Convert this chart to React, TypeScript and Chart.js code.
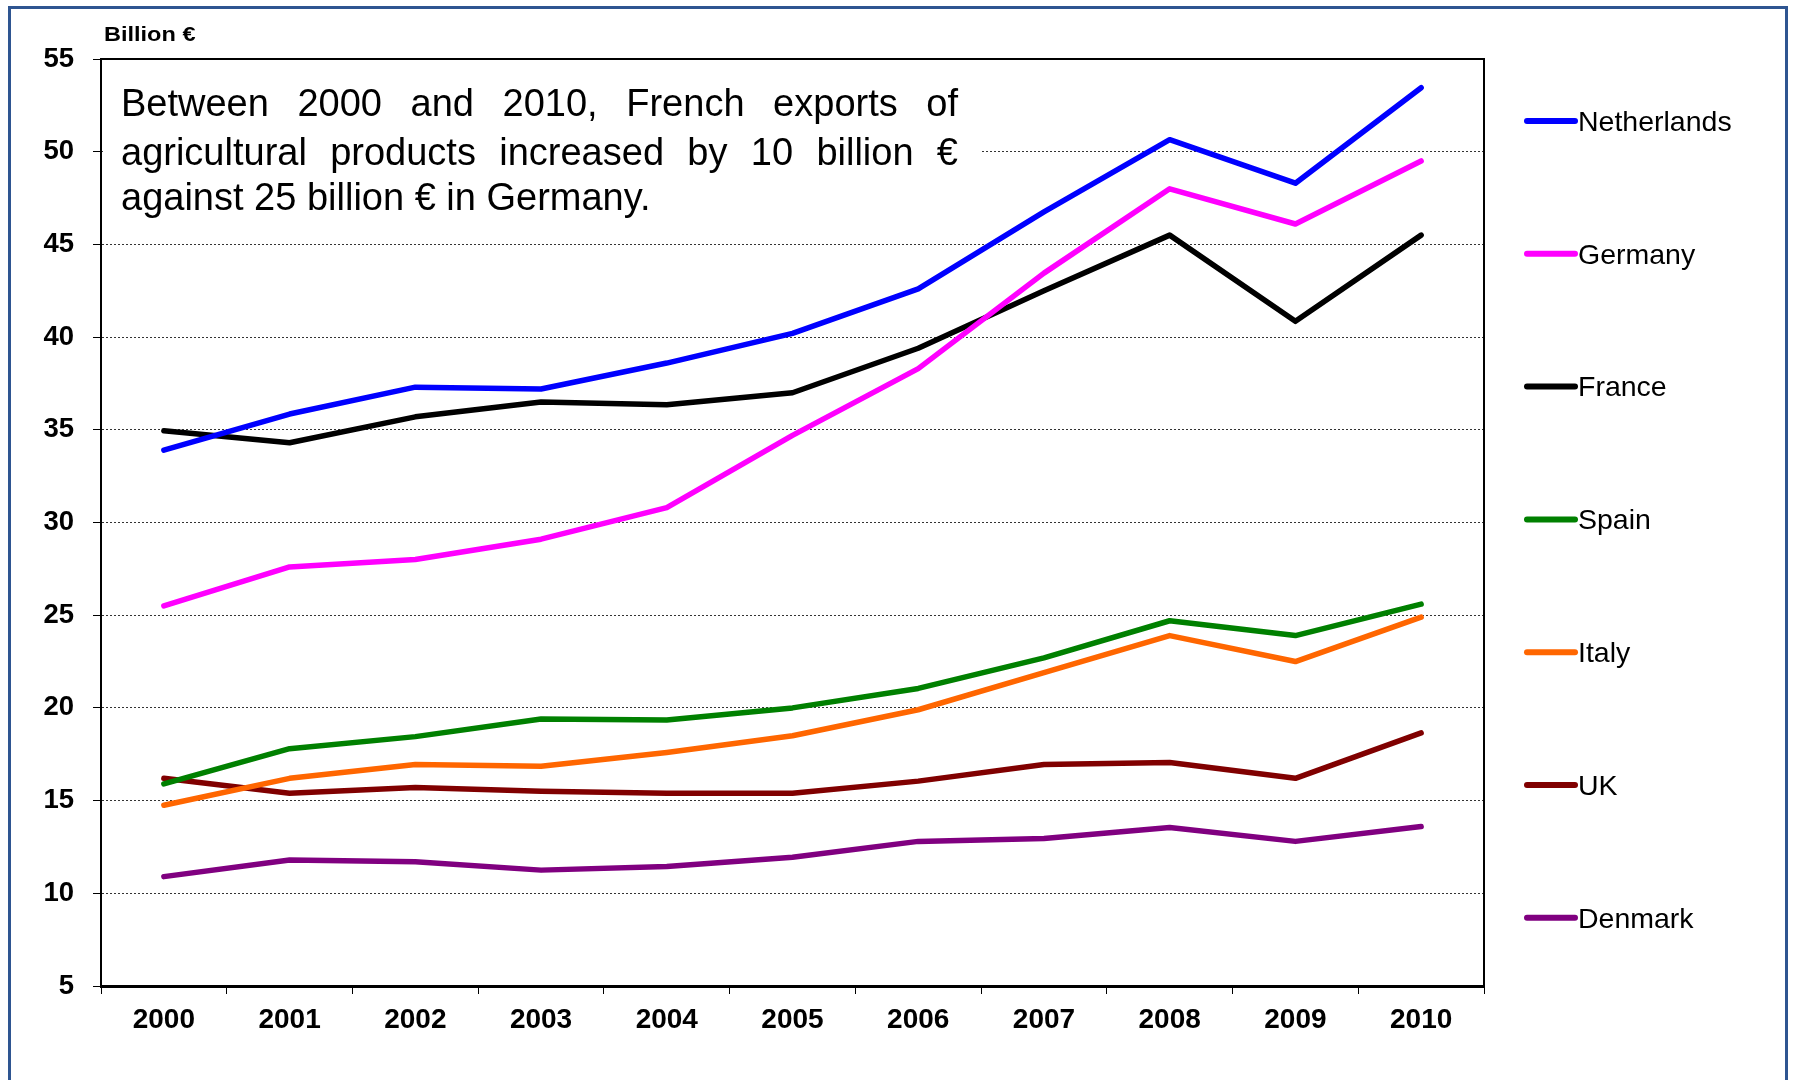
import React, { useEffect, useRef } from "react";
import { Chart, registerables } from "chart.js";

Chart.register(...registerables);

const years = ["2000", "2001", "2002", "2003", "2004", "2005", "2006", "2007", "2008", "2009", "2010"];

const netherlands = [33.9, 35.85, 37.3, 37.2, 38.6, 40.2, 42.6, 46.75, 50.65, 48.3, 53.45];
const germany = [25.5, 27.6, 28.0, 29.1, 30.8, 34.7, 38.3, 43.45, 48.0, 46.1, 49.5];
const france = [34.95, 34.3, 35.7, 36.5, 36.35, 37.0, 39.4, 42.5, 45.5, 40.85, 45.5];
const spain = [15.9, 17.8, 18.45, 19.4, 19.35, 20.0, 21.05, 22.7, 24.7, 23.9, 25.6];
const italy = [14.75, 16.2, 16.95, 16.85, 17.6, 18.5, 19.9, 21.9, 23.9, 22.5, 24.9];
const uk = [16.2, 15.4, 15.7, 15.5, 15.4, 15.4, 16.05, 16.95, 17.05, 16.2, 18.65];
const denmark = [10.9, 11.8, 11.7, 11.25, 11.45, 11.95, 12.8, 12.95, 13.55, 12.8, 13.6];

const seriesNames = ["Netherlands", "Germany", "France", "Spain", "Italy", "UK", "Denmark"];
const seriesValues = [netherlands, germany, france, spain, italy, uk, denmark];
const seriesColors = ["#0000FF", "#FF00FF", "#000000", "#008000", "#FF6600", "#800000", "#800080"];

const yMin = 5;
const yMax = 55;
const yStep = 5;

const unitLabel = "Billion €";
const noteLines = [
  "Between 2000 and 2010, French exports of",
  "agricultural products increased by 10 billion €",
  "against 25 billion € in Germany.",
];

const FONT = '"Liberation Sans", Arial, Helvetica, sans-serif';

const decorPlugin = {
  id: "decor",
  beforeDraw(chart: any) {
    const ctx = chart.ctx;
    ctx.save();
    ctx.fillStyle = "#ffffff";
    ctx.fillRect(0, 0, chart.width, chart.height);
    ctx.strokeStyle = "#2E5591";
    ctx.lineWidth = 3;
    ctx.strokeRect(9.5, 7.5, 1777, 1200);
    ctx.restore();
  },
  beforeDatasetsDraw(chart: any) {
    const { ctx, chartArea } = chart;
    ctx.save();
    ctx.fillStyle = "#ffffff";
    ctx.fillRect(chartArea.left + 2, chartArea.top + 2, 978 - chartArea.left, 226 - chartArea.top);
    ctx.restore();
  },
  afterDatasetsDraw(chart: any) {
    const { ctx, chartArea } = chart;
    ctx.save();
    // plot frame (top and right)
    ctx.strokeStyle = "#000";
    ctx.lineWidth = 2;
    ctx.beginPath();
    ctx.moveTo(chartArea.left, chartArea.top);
    ctx.lineTo(chartArea.right, chartArea.top);
    ctx.lineTo(chartArea.right, chartArea.bottom);
    ctx.stroke();

    // unit label (slightly wide, like the original)
    ctx.fillStyle = "#000";
    ctx.font = `bold 21px ${FONT}`;
    ctx.textAlign = "left";
    ctx.textBaseline = "alphabetic";
    ctx.save();
    ctx.translate(104, 41);
    ctx.scale(1.12, 1);
    ctx.fillText(unitLabel, 0, 0);
    ctx.restore();

    // note text, justified
    ctx.font = `38px ${FONT}`;
    const left = 121;
    const right = 958;
    const baselines = [116, 165, 210];
    noteLines.forEach((line, i) => {
      if (i < noteLines.length - 1) {
        const words = line.split(" ");
        const wordsW = words.reduce((s, w) => s + ctx.measureText(w).width, 0);
        const gap = (right - left - wordsW) / (words.length - 1);
        let x = left;
        words.forEach((w) => {
          ctx.fillText(w, x, baselines[i]);
          x += ctx.measureText(w).width + gap;
        });
      } else {
        ctx.fillText(line, left, baselines[i]);
      }
    });

    // legend
    ctx.font = `28.5px ${FONT}`;
    ctx.textBaseline = "middle";
    chart.data.datasets.forEach((ds: any, i: number) => {
      const y = 121 + i * 132.8;
      ctx.strokeStyle = ds.borderColor;
      ctx.lineWidth = 6;
      ctx.lineCap = "round";
      ctx.beginPath();
      ctx.moveTo(1527, y);
      ctx.lineTo(1575, y);
      ctx.stroke();
      ctx.fillStyle = "#000";
      ctx.fillText(ds.label, 1578, y + 2);
    });
    ctx.restore();
  },
};

export default function App() {
  const canvasRef = useRef<HTMLCanvasElement | null>(null);

  useEffect(() => {
    const canvas = canvasRef.current;
    if (!canvas) return;
    const chart = new Chart(canvas, {
      type: "line",
      data: {
        labels: years,
        datasets: seriesNames.map((name, i) => ({
          label: name,
          data: seriesValues[i],
          borderColor: seriesColors[i],
          backgroundColor: seriesColors[i],
          borderWidth: 5.5,
          pointRadius: 0,
          pointHoverRadius: 0,
          tension: 0,
          fill: false,
          borderCapStyle: "round" as const,
          borderJoinStyle: "round" as const,
        })),
      },
      options: {
        responsive: false,
        maintainAspectRatio: false,
        animation: false,
        devicePixelRatio: 1,
        layout: { padding: { left: 0, right: 309, top: 59, bottom: 34 } },
        plugins: {
          legend: { display: false },
          tooltip: { enabled: false },
          title: { display: false },
        },
        scales: {
          x: {
            type: "category",
            offset: true,
            afterFit: (scale: any) => {
              scale.height = 60;
            },
            grid: {
              display: true,
              drawOnChartArea: false,
              offset: true,
              tickLength: 8,
              tickColor: "#000",
              tickWidth: 1,
            },
            border: { display: true, color: "#000", width: 3 },
            ticks: {
              color: "#000",
              padding: 9,
              font: { family: FONT, size: 28, weight: "bold" },
              maxRotation: 0,
              autoSkip: false,
            },
          },
          y: {
            min: yMin,
            max: yMax,
            afterFit: (scale: any) => {
              scale.width = 101;
            },
            grid: {
              display: true,
              color: "#333",
              lineWidth: 1,
              tickLength: 8,
              tickColor: "#000",
              tickWidth: 1,
              tickBorderDash: [8, 0],
            },
            border: { display: true, color: "#000", width: 2, dash: [2, 2] },
            ticks: {
              stepSize: yStep,
              color: "#000",
              padding: 19,
              font: { family: FONT, size: 27.5, weight: "bold" },
            },
          },
        },
      },
      plugins: [decorPlugin],
    } as any);
    return () => chart.destroy();
  }, []);

  return (
    <div style={{ position: "fixed", left: 0, top: 0, width: 1793, height: 1080, background: "#fff" }}>
      <canvas ref={canvasRef} width={1793} height={1080} style={{ width: 1793, height: 1080, display: "block" }} />
    </div>
  );
}
